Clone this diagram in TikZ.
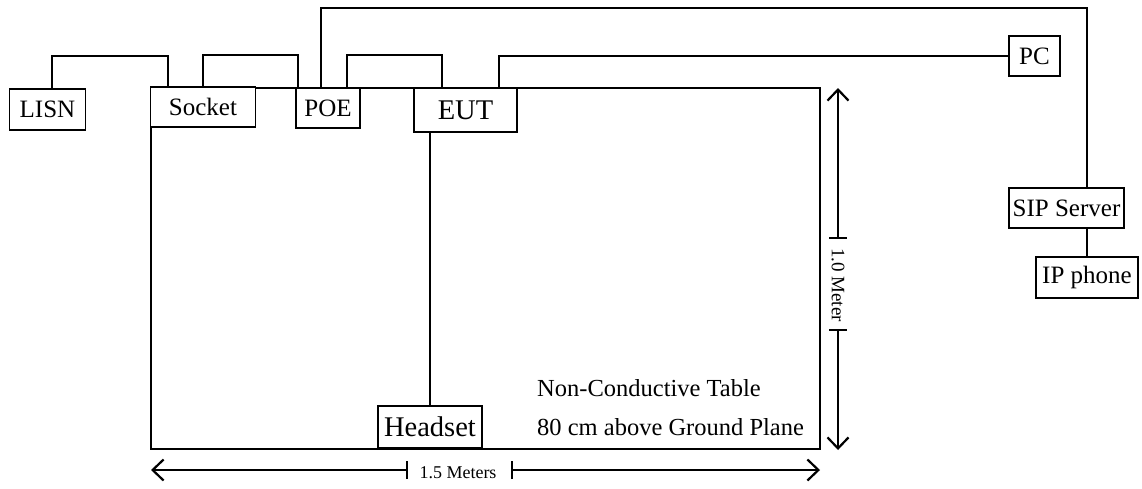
\documentclass[tikz,border=0pt]{standalone}
\usepackage{fontspec}
\setmainfont{Liberation Serif}
\usetikzlibrary{arrows.meta}
\begin{document}
\begin{tikzpicture}[x=1pt,y=-1pt,
  box/.style={draw,line width=1.8pt,fill=white,inner sep=0pt,font=\fontsize{25}{28}\selectfont},
  bigbox/.style={box,font=\fontsize{28.5}{32}\selectfont},
  wire/.style={line width=1.4pt},
  dim/.style={line width=1.8pt},
  tip/.style={-{Straight Barb[length=11pt,width=21pt,line width=2.2pt]}},
  note/.style={anchor=west,inner sep=0pt,font=\fontsize{24.5}{28}\selectfont},
  dimlab/.style={inner sep=0pt,font=\fontsize{18}{20}\selectfont}]
\useasboundingbox (0,0) rectangle (1142,488);
% table
\node[draw,line width=1.8pt,minimum width=669pt,minimum height=361pt,inner sep=0pt] (table) at (485.5,268.5) {};
% boxes
\node[box,minimum width=76pt,minimum height=41pt] (lisn) at (47.5,109.5) {LISN};
\node[box,minimum width=105pt,minimum height=40pt] (socket) at (203,107) {Socket};
\node[box,minimum width=64pt,minimum height=40pt] (poe) at (328,108) {POE};
\node[bigbox,minimum width=103pt,minimum height=44pt] (eut) at (465.5,110) {EUT};
\node[bigbox,minimum width=104pt,minimum height=42pt] (headset) at (430,427) {Headset};
\node[box,minimum width=51pt,minimum height=40pt] (pc) at (1034.5,56) {PC};
\node[box,minimum width=115pt,minimum height=40pt] (sip) at (1066.5,208) {SIP Server};
\node[box,minimum width=102pt,minimum height=41pt] (ip) at (1087,277.5) {IP phone};
% wires
\draw[wire] ([xshift=4.5pt]lisn.north) -- ++(0,-32) -| ([xshift=-35pt]socket.north);
\draw[wire] (socket.north) -- ++(0,-31) -| ([xshift=-30pt]poe.north);
\draw[wire] ([xshift=-7pt]poe.north) -- ++(0,-79) -| ([xshift=20.5pt]sip.north);
\draw[wire] ([xshift=19pt]poe.north) -- ++(0,-32) -| ([xshift=-23.5pt]eut.north);
\draw[wire] ([xshift=33.5pt]eut.north) |- (pc.west);
\draw[wire] (headset.north) -- (headset.north |- eut.south);
\draw[wire] (ip.north) -- (ip.north |- sip.south);
% texts
\node[note] (t1) at (537,388) {Non-Conductive Table};
\node[note] (t2) at (537,427) {80 cm above Ground Plane};
% vertical dimension
\node[dimlab,rotate=-90,font=\fontsize{19}{21}\selectfont] (vlab) at (838,285) {1.0 Meter};
\coordinate (vt) at (838,88);
\coordinate (vb) at (838,450);
\coordinate (va) at (838,238);
\coordinate (vc) at (838,330);
\draw[dim,tip] (va) -- (vt);
\draw[dim,tip] (vc) -- (vb);
\draw[dim] ([xshift=-9pt]va) -- ([xshift=9pt]va);
\draw[dim] ([xshift=-9pt]vc) -- ([xshift=9pt]vc);
% horizontal dimension
\node[dimlab] (hlab) at (458,473) {1.5 Meters};
\coordinate (hl) at (151,470);
\coordinate (hr) at (820,470);
\coordinate (ha) at (407,470);
\coordinate (hc) at (512,470);
\draw[dim,tip] (ha) -- (hl);
\draw[dim,tip] (hc) -- (hr);
\draw[dim] ([yshift=-9pt]ha) -- ([yshift=9pt]ha);
\draw[dim] ([yshift=-9pt]hc) -- ([yshift=9pt]hc);
\end{tikzpicture}
\end{document}
